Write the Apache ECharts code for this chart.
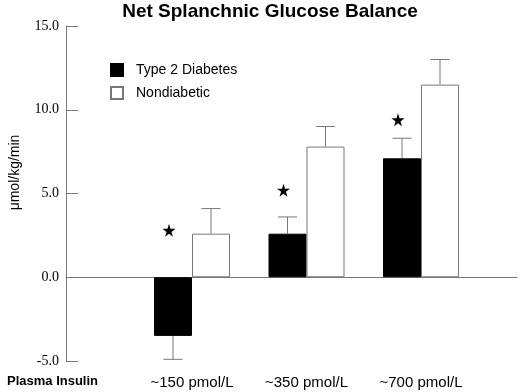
<!DOCTYPE html>
<html>
<head>
<meta charset="utf-8">
<script src="https://cdn.jsdelivr.net/npm/echarts@6/dist/echarts.min.js"></script>
<style>
  html, body { margin: 0; padding: 0; background: #fff; }
  #chart { width: 520px; height: 392px; }
</style>
</head>
<body>
<div id="chart"></div>
<script>
// data
const categories = ["~150 pmol/L", "~350 pmol/L", "~700 pmol/L"];
const type2 = [-3.5, 2.6, 7.1];
const type2Err = [1.4, 1.0, 1.2];
const nondiabetic = [2.6, 7.8, 11.5];
const nondiabeticErr = [1.5, 1.2, 1.5];
const starY = [2.8, 5.2, 9.4];
const yTicks = [-5, 0, 5, 10, 15];

const BAR_W = 38;
const AXIS = "#777";
const SANS = "'Liberation Sans', Arial, sans-serif";

var chart = echarts.init(document.getElementById("chart"));

// error bars: [category, value, err], drawn away from zero
function errData(vals, errs) {
  return vals.map(function (v, i) { return [i, v, errs[i]]; });
}
function errRender(offset) {
  return function (params, api) {
    var v = api.value(1);
    var e = api.value(2);
    var end = v < 0 ? v - e : v + e;
    var p0 = api.coord([api.value(0), v]);
    var p1 = api.coord([api.value(0), end]);
    var x = p0[0] + offset;
    var half = BAR_W / 4;
    var style = { stroke: AXIS, lineWidth: 1 };
    return {
      type: "group",
      children: [
        { type: "line", shape: { x1: x, y1: p0[1], x2: x, y2: p1[1] }, style: style },
        { type: "line", shape: { x1: x - half, y1: p1[1], x2: x + half, y2: p1[1] }, style: style }
      ]
    };
  };
}

var option = {
  animation: false,
  title: {
    text: "Net Splanchnic Glucose Balance",
    left: 265,
    textAlign: "center",
    top: -3,
    textStyle: { fontFamily: SANS, fontWeight: "bold", fontSize: 19, color: "#000" }
  },
  legend: {
    orient: "vertical",
    left: 110,
    top: 63,
    padding: 0,
    itemWidth: 12,
    itemHeight: 12,
    itemGap: 9,
    textStyle: { fontFamily: SANS, fontSize: 14, color: "#000", padding: [0, 0, 0, 8] },
    data: [
      { name: "Type 2 Diabetes", icon: "rect" },
      { name: "Nondiabetic", icon: "rect" }
    ]
  },
  grid: [
    { left: 59, right: 3, top: 26, bottom: 31 },
    { left: 134.75, right: 41.75, top: 26, bottom: 31 }
  ],
  xAxis: [
    {
      gridIndex: 0,
      type: "value",
      min: 0,
      max: 1,
      axisLine: { onZero: true, lineStyle: { color: AXIS, width: 1 } },
      axisTick: { show: false },
      axisLabel: { show: false },
      splitLine: { show: false }
    },
    {
      gridIndex: 1,
      type: "category",
      data: categories,
      axisLine: { show: false, onZero: false },
      axisTick: { show: false },
      axisLabel: { margin: 14, fontFamily: SANS, fontSize: 15, color: "#000" }
    }
  ],
  yAxis: [
    {
      gridIndex: 0,
      type: "value",
      min: yTicks[0],
      max: yTicks[yTicks.length - 1],
      interval: 5,
      name: "\u03bcmol/kg/min",
      nameLocation: "middle",
      nameGap: 44,
      nameTextStyle: { fontFamily: SANS, fontSize: 14, color: "#000", padding: [0, 0, 0, 42] },
      axisLine: { show: true, lineStyle: { color: AXIS, width: 1 } },
      axisTick: { show: true, inside: true, length: 12, lineStyle: { color: AXIS } },
      axisLabel: {
        margin: 7,
        fontFamily: "'Liberation Serif', 'Times New Roman', serif",
        fontSize: 14,
        color: "#000",
        formatter: function (v) { return v.toFixed(1); }
      },
      splitLine: { show: false }
    },
    {
      gridIndex: 1,
      type: "value",
      min: yTicks[0],
      max: yTicks[yTicks.length - 1],
      show: false
    }
  ],
  graphic: [
    {
      type: "text",
      left: 7,
      top: 375,
      style: { text: "Plasma Insulin", fontFamily: SANS, fontWeight: "bold", fontSize: 13, fill: "#000" }
    }
  ],
  series: [
    {
      name: "Type 2 Diabetes",
      type: "bar",
      xAxisIndex: 1,
      yAxisIndex: 1,
      barWidth: BAR_W,
      barGap: "0%",
      itemStyle: { color: "#000", borderColor: "#000", borderWidth: 1 },
      data: type2
    },
    {
      name: "Nondiabetic",
      type: "bar",
      xAxisIndex: 1,
      yAxisIndex: 1,
      barWidth: BAR_W,
      itemStyle: { color: "#fff", borderColor: AXIS, borderWidth: 1 },
      data: nondiabetic
    },
    {
      type: "custom",
      xAxisIndex: 1,
      yAxisIndex: 1,
      renderItem: errRender(-BAR_W / 2),
      encode: { x: 0, y: 1 },
      data: errData(type2, type2Err),
      z: 3
    },
    {
      type: "custom",
      xAxisIndex: 1,
      yAxisIndex: 1,
      renderItem: errRender(BAR_W / 2),
      encode: { x: 0, y: 1 },
      data: errData(nondiabetic, nondiabeticErr),
      z: 3
    },
    {
      type: "scatter",
      xAxisIndex: 1,
      yAxisIndex: 1,
      symbol: "path://M50,0 L61,35 L98,35 L68,57 L79,91 L50,70 L21,91 L32,57 L2,35 L39,35 Z",
      symbolSize: 13,
      symbolOffset: [-BAR_W / 2 - 4, 0],
      itemStyle: { color: "#000", opacity: 1 },
      data: starY.map(function (v, i) { return [i, v]; }),
      z: 4
    }
  ]
};

chart.setOption(option);
</script>
</body>
</html>
